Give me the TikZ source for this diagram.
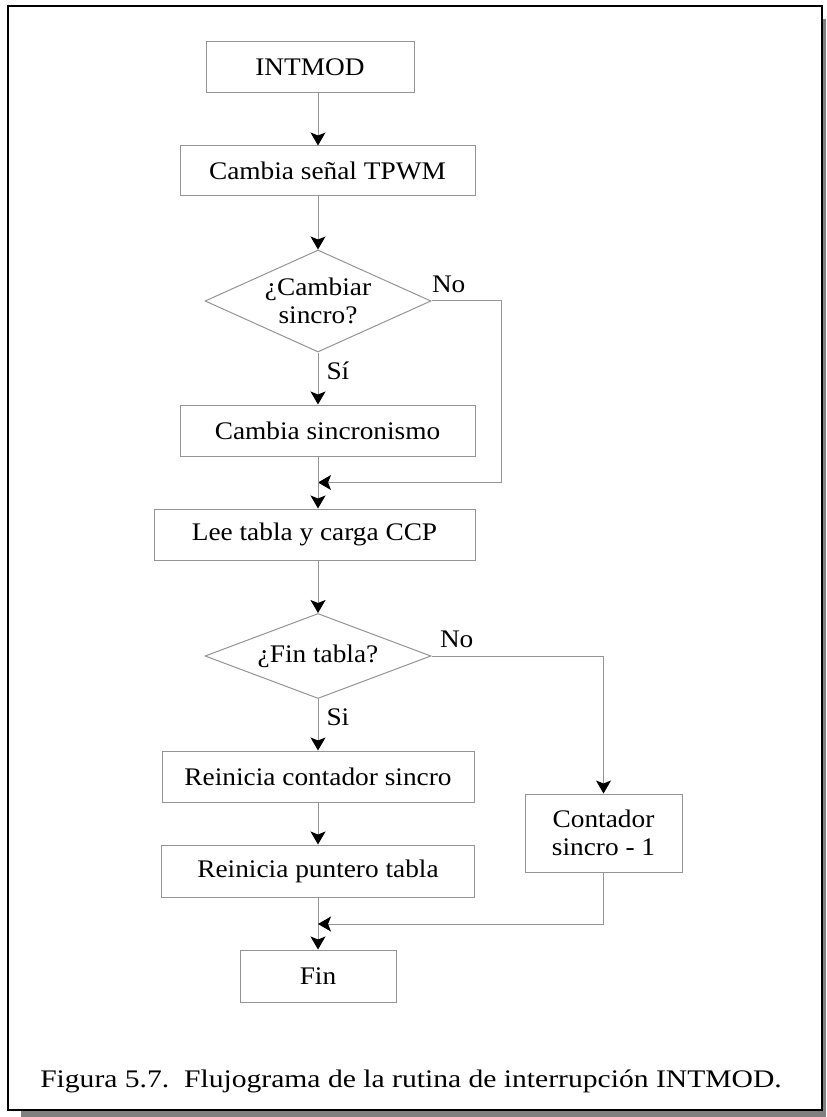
\documentclass[tikz,border=0pt]{standalone}
\usepackage{fontspec}
\setmainfont{Liberation Serif}[FakeStretch=1.08]
\newfontfamily\capfont{Liberation Serif}[FakeStretch=1.17]
\usepackage {tikz}
\usetikzlibrary {positioning}
\usetikzlibrary{shapes.geometric}
\usetikzlibrary{arrows.meta}
\tikzset{
	process/.style = {rectangle, draw=black!42, line width=0.5pt, inner sep=0pt, minimum height=25.5pt},
	decision/.style = {diamond, draw=black!42, line width=0.5pt, inner sep=0pt, minimum width=113pt},
	answer/.style = {inner sep=4pt}}

\begin{document}
\begin{tikzpicture}[on grid ,
    font=\fontsize{12.65}{13.75}\selectfont ,
    flow/.style = {draw=black!42, line width=0.5pt, -{Stealth[black,length=6.5pt,width=7.5pt,inset=1.5pt]}},
    frame/.style = {draw=black, line width=1pt, fill=white}
    ]
    \useasboundingbox (0,0) rectangle (413pt,-558.5pt);
    \fill[black!50] (10.5pt,-9.5pt) rectangle (413pt,-558.5pt);
    \draw[frame] (3.9pt,-3.15pt) rectangle (410.75pt,-555pt);

    \node[process, minimum width=104pt] (intmod) at (155pt,-33.75pt) {INTMOD};
    \node[process, minimum width=147.5pt, minimum height=25pt] (tpwm) [below right = 51.75pt and 8.75pt of intmod] {Cambia señal TPWM};
    \node[decision, minimum height=51pt, label={[align=center]center:¿Cambiar\\sincro?}] (qsync) [below left = 65pt and 4.75pt of tpwm] {};
    \node[process, minimum width=147.5pt] (sinc) [below right = 64.75pt and 4.75pt of qsync] {Cambia sincronismo};
    \node[process, minimum width=160.5pt] (lee) [below left = 52pt and 6.5pt of sinc] {Lee tabla y carga CCP};
    \node[decision, minimum height=42.5pt, label=center:¿Fin tabla?] (qend) [below right = 60.75pt and 1.75pt of lee] {};
    \node[process, minimum width=156pt] (rcont) [below = 60.25pt of qend] {Reinicia contador sincro};
    \node[process, minimum width=156.5pt, minimum height=26pt] (rpunt) [below = 47.25pt of rcont] {Reinicia puntero tabla};
    \node[process, minimum width=78pt, minimum height=26pt] (fin) [below = 52.5pt of rpunt] {Fin};
    \node[process, minimum width=78.5pt, minimum height=39pt, align=center] (cont) [below right = 28.25pt and 142.75pt of rcont] {Contador\\sincro - 1};

    \coordinate[right = 91.5pt of qsync] (csync);
    \coordinate[below = 90.75pt of qsync] (jsync);
    \coordinate[below = 26.5pt of rpunt] (jend);

    \draw[flow] (intmod.south -| qsync) -- (tpwm.north -| qsync);
    \draw[flow] (tpwm.south -| qsync) -- (qsync.north);
    \draw[flow] (qsync.south) -- node[answer, right, pos=0.36] (si1) {Sí} (sinc.north -| qsync);
    \draw[flow] (qsync.east) node[answer, above right, xshift=-4pt] (no1) {No} -- (csync) |- (jsync);
    \draw[flow] (sinc.south -| qsync) -- (lee.north -| qsync);
    \draw[flow] (lee.south -| qsync) -- (qend.north);
    \draw[flow] (qend.south) -- node[answer, right, pos=0.36] (si2) {Si} (rcont.north -| qend);
    \draw[flow] (qend.east) node[answer, above right] (no2) {No} -| (cont.north);
    \draw[flow] (rcont.south -| qend) -- (rpunt.north -| qend);
    \draw[flow] (rpunt.south -| qend) -- (fin.north -| qend);
    \draw[flow] (cont.south) |- (jend);

    \node[anchor=base, font=\capfont\fontsize{12.65}{14}\selectfont] (caption) at (205.5pt,-543.5pt) {Figura 5.7.\ \ Flujograma de la rutina de interrupción INTMOD.};
\end{tikzpicture}
\end{document}
